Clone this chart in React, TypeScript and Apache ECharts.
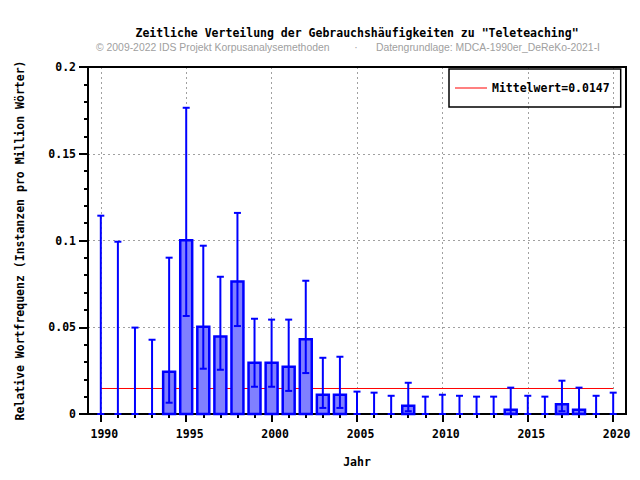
import React, { useEffect, useRef } from "react";
import * as echarts from "echarts";

// ---- data ----
const years = [
  1990, 1991, 1992, 1993, 1994, 1995, 1996, 1997, 1998, 1999, 2000, 2001, 2002,
  2003, 2004, 2005, 2006, 2007, 2008, 2009, 2010, 2011, 2012, 2013, 2014, 2015,
  2016, 2017, 2018, 2019, 2020,
];
const values = [
  0, 0, 0, 0, 0.0244, 0.1001, 0.0503, 0.0446, 0.0763, 0.0296, 0.0296, 0.0273,
  0.0431, 0.0111, 0.0111, 0, 0, 0, 0.0048, 0, 0, 0, 0, 0, 0.0025, 0, 0, 0.0056,
  0.0025, 0, 0,
];
const errLow = [
  0, 0, 0, 0, 0.0065, 0.0565, 0.0261, 0.0255, 0.0507, 0.0157, 0.0157, 0.0133,
  0.0236, 0.0035, 0.0035, 0, 0, 0, 0.0016, 0, 0, 0, 0, 0, 0.0001, 0, 0, 0.0016,
  0.0001, 0, 0,
];
const errHigh = [
  0.1143, 0.0993, 0.0498, 0.0428, 0.0901, 0.1765, 0.097, 0.0791, 0.1159, 0.0549,
  0.0544, 0.0544, 0.0768, 0.0324, 0.033, 0.0129, 0.0123, 0.0105, 0.018, 0.01,
  0.0111, 0.0105, 0.01, 0.01, 0.0152, 0.0105, 0.01, 0.0192, 0.0152, 0.0105,
  0.0123,
];
const meanValue = 0.0147;
const meanLabel = "Mittelwert=0.0147";
const majorYears = [1990, 1995, 2000, 2005, 2010, 2015, 2020];

const titleText = 'Zeitliche Verteilung der Gebrauchshäufigkeiten zu "Teleteaching"';
const copyrightText = "© 2009-2022 IDS Projekt Korpusanalysemethoden";
const sourceText = "Datengrundlage: MDCA-1990er_DeReKo-2021-I";
const xName = "Jahr";
const yName = "Relative Wortfrequenz (Instanzen pro Million Wörter)";

// ---- styles ----
const MONO = '"DejaVu Sans Mono", "Liberation Mono", monospace';
const SANS = '"Liberation Sans", Arial, sans-serif';
const W = 640;
const H = 480;
const GRID = { left: 88, top: 67, right: 14, bottom: 66 };
const BOX_WIDTH = 0.7;
const BLUE = "#0000ff";
const monoText = { fontFamily: MONO, fontWeight: "bold" as const, fontSize: 11.5, color: "#000" };
const gridLine = { color: "#a0a0a0", width: 1, type: [2, 3] as number[] };
const subFont = `10.4px ${SANS}`;

export default function App() {
  const ref = useRef<HTMLDivElement>(null);

  useEffect(() => {
    document.body.style.margin = "0";
    if (!ref.current) return;
    const chart = echarts.init(ref.current, null, { renderer: "svg" });

    const plotW = W - GRID.left - GRID.right;
    const plotH = H - GRID.top - GRID.bottom;

    const option: any = {
      animation: false,
      backgroundColor: "#fff",
      grid: { ...GRID, containLabel: false },
      legend: {
        data: [{ name: meanLabel, icon: "rect" }],
        left: 449,
        top: 69,
        orient: "vertical",
        padding: [12, 11, 12, 6],
        itemWidth: 32,
        itemHeight: 1,
        borderColor: "#000",
        borderWidth: 1.5,
        textStyle: { ...monoText, lineHeight: 14 },
      },
      graphic: [
        {
          type: "rect",
          z: 1,
          silent: true,
          shape: { x: GRID.left, y: GRID.top, width: plotW, height: plotH },
          style: { fill: "none", stroke: "#000", lineWidth: 2 },
        },
        {
          type: "text",
          x: 357,
          y: 33,
          style: {
            text: titleText,
            align: "center",
            verticalAlign: "middle",
            font: `bold 11.5px ${MONO}`,
            fill: "#000",
          },
        },
        {
          type: "text",
          x: 96,
          y: 47,
          style: { text: copyrightText, align: "left", verticalAlign: "middle", font: subFont, fill: "#a0a0a0" },
        },
        {
          type: "text",
          x: 356,
          y: 47,
          style: { text: "·", align: "center", verticalAlign: "middle", font: subFont, fill: "#a0a0a0" },
        },
        {
          type: "text",
          x: 600,
          y: 47,
          style: { text: sourceText, align: "right", verticalAlign: "middle", font: subFont, fill: "#a0a0a0" },
        },
      ],
      xAxis: [
        {
          type: "value",
          min: 1989.25,
          max: 2020.75,
          axisLine: { show: false },
          axisTick: {
            show: true,
            customValues: majorYears,
            length: 8,
            lineStyle: { color: "#000", width: 2 },
          },
          axisLabel: {
            customValues: majorYears,
            formatter: (v: number) => String(v),
            margin: 14,
            padding: [0, 0, 0, 7],
            ...monoText,
          },
          splitLine: { show: true, lineStyle: gridLine },
          name: xName,
          nameLocation: "middle",
          nameGap: 42,
          nameTextStyle: monoText,
        },
        {
          type: "value",
          min: 1989.25,
          max: 2020.75,
          position: "bottom",
          axisLine: { show: false },
          axisTick: {
            show: true,
            customValues: years,
            length: 4,
            lineStyle: { color: "#000", width: 2 },
          },
          axisLabel: { show: false },
          splitLine: { show: false },
        },
      ],
      yAxis: {
        type: "value",
        min: 0,
        max: 0.2,
        interval: 0.05,
        axisLine: { show: false },
        axisTick: { show: true, length: 9, lineStyle: { color: "#000", width: 2 } },
        minorTick: {
          show: true,
          splitNumber: 5,
          length: 4,
          lineStyle: { color: "#000", width: 2 },
        },
        minorSplitLine: { show: false },
        axisLabel: { margin: 12, ...monoText },
        splitLine: { show: true, lineStyle: gridLine },
        name: yName,
        nameLocation: "middle",
        nameGap: 62,
        nameTextStyle: monoText,
      },
      series: [
        {
          name: meanLabel,
          type: "line",
          z: 2,
          symbol: "none",
          lineStyle: { color: "#ff0000", width: 1 },
          itemStyle: { color: "#ff0000" },
          data: [
            [years[0], meanValue],
            [years[years.length - 1], meanValue],
          ],
        },
        {
          name: "Relative Wortfrequenz",
          type: "custom",
          z: 3,
          encode: { x: 0, y: 1 },
          data: years.map((y, i) => [y, values[i]]),
          renderItem: (params: any, api: any) => {
            const x = api.value(0);
            const v = api.value(1);
            if (!v) return null;
            const p0 = api.coord([x - BOX_WIDTH / 2, v]);
            const p1 = api.coord([x + BOX_WIDTH / 2, 0]);
            return {
              type: "rect",
              shape: { x: p0[0], y: p0[1], width: p1[0] - p0[0], height: p1[1] - p0[1] },
              style: { fill: "#8080ff", stroke: BLUE, lineWidth: 2.5 },
            };
          },
        },
        {
          name: "Fehler",
          type: "custom",
          z: 4,
          encode: { x: 0, y: [1, 2] },
          data: years.map((y, i) => [y, errLow[i], errHigh[i]]),
          renderItem: (params: any, api: any) => {
            const x = api.value(0);
            const lo = api.coord([x, api.value(1)]);
            const hi = api.coord([x, api.value(2)]);
            const cap = 3.5;
            const st = { stroke: BLUE, lineWidth: 2 };
            return {
              type: "group",
              children: [
                { type: "line", shape: { x1: lo[0], y1: lo[1], x2: hi[0], y2: hi[1] }, style: st },
                { type: "line", shape: { x1: lo[0] - cap, y1: lo[1], x2: lo[0] + cap, y2: lo[1] }, style: st },
                { type: "line", shape: { x1: hi[0] - cap, y1: hi[1], x2: hi[0] + cap, y2: hi[1] }, style: st },
              ],
            };
          },
        },
      ],
    };

    chart.setOption(option);
    return () => chart.dispose();
  }, []);

  return <div ref={ref} style={{ width: W, height: H }} />;
}
